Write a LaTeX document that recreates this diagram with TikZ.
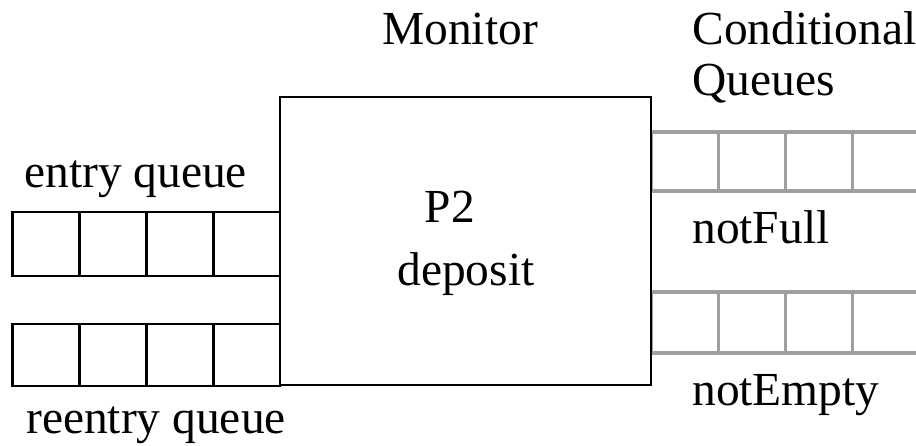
\documentclass[tikz,border=0pt]{standalone}
\usepackage{fontspec}
\setmainfont{Liberation Serif}
\usepackage{tikz}
\usetikzlibrary{positioning}

\begin{document}
\begin{tikzpicture}[
  x=0.02cm, y=-0.02cm,
  monbox/.style  = {draw=black, line width=1.6pt, minimum width=7.42cm,
                    minimum height=5.76cm, inner sep=0pt, outer sep=0pt},
  lcell/.style   = {draw=black, line width=1.5pt, minimum width=1.34cm,
                    inner sep=0pt, outer sep=0pt},
  rcell/.style   = {draw=gray!75, line width=2.2pt, minimum width=1.34cm,
                    inner sep=0pt, outer sep=0pt},
  lbl/.style     = {font=\fontsize{27}{31}\selectfont, inner sep=0pt},
]
\useasboundingbox (0,0) rectangle (916,446);

%% -- Monitor ------------------------------------------------------
\node[monbox] (mon) at (465.5,241) {};
\node[lbl, anchor=base west] (montitle) at (382,45) {Monitor};
\node[lbl, anchor=base] (p2)  at (450,222) {P2};
\node[lbl, anchor=base] (dep) at (466,285) {deposit};

%% -- Entry / reentry queues ---------------------------------------
\foreach \i/\cx in {1/46, 2/113.5, 3/180, 4/246.5} {
  \node[lcell, minimum height=1.28cm] (ent\i) at (\cx,244) {};
  \node[lcell, minimum height=1.24cm] (ree\i) at (\cx,355) {};
}
\node[lbl, anchor=base west] (entlbl) at (24,187) {entry queue};
\node[lbl, anchor=base west] (reelbl) at (26,433) {reentry queue};

%% -- Conditional queues -------------------------------------------
\node[lbl, anchor=base west] (cond1) at (692,45) {Conditional};
\node[lbl, anchor=base west] (cond2) at (692,95) {Queues};
\foreach \i/\cx in {1/685, 2/752, 3/819, 4/886} {
  \node[rcell, minimum height=1.18cm] (nf\i) at (\cx,161.5) {};
  \node[rcell, minimum height=1.22cm] (ne\i) at (\cx,322.5) {};
}
\node[lbl, anchor=base west] (nflbl) at (692,243) {notFull};
\node[lbl, anchor=base west] (nelbl) at (692,405) {notEmpty};

%% redraw the box edge over the grey cells
\draw[line width=1.6pt] (mon.north east) -- (mon.south east);

\end{tikzpicture}
\end{document}
